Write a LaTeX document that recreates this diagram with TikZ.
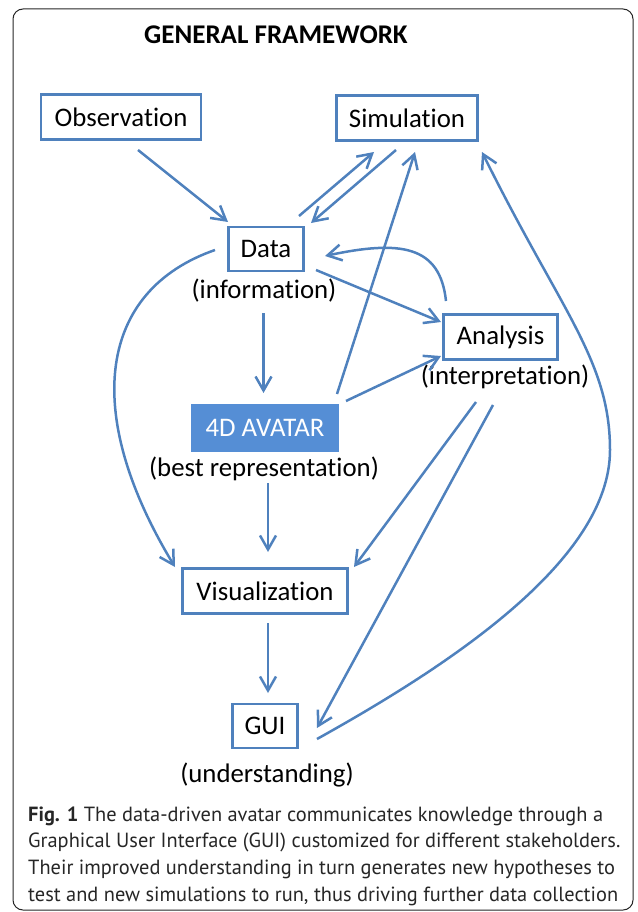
\documentclass[tikz,border=0pt]{standalone}
\usepackage{fontspec}
\setmainfont{Carlito}[Ligatures=NoCommon]
\newfontfamily\capfont{PT Sans}[FakeStretch=0.995]
\usetikzlibrary{arrows.meta}
\definecolor{lineblue}{RGB}{79,129,189}
\definecolor{avatarblue}{RGB}{85,142,213}
\newcommand\tiNoLig{t\kern0pt i}
\begin{document}
\begin{tikzpicture}[x=1pt,y=-1pt,
  box/.style={draw=lineblue, line width=2.6pt, inner sep=0pt, font=\fontsize{26.8}{30}\selectfont},
  lbl/.style={inner sep=0pt, anchor=base, font=\fontsize{26.8}{30}\selectfont},
  captext/.style={inner sep=0pt, anchor=base west, font=\capfont\fontsize{20.5}{24}\selectfont, text=black!85},
  conn/.style={draw=lineblue, line width=2.5pt, -{Straight Barb[length=14pt,width=16pt]}}]
\useasboundingbox (0,0) rectangle (637,912);
\draw[black!85, line width=1pt, rounded corners=10pt] (13,9) rectangle (633,910);

\node[inner sep=0pt, anchor=base west, font=\bfseries\fontsize{27}{30}\selectfont] (title) at (144,44) {GENERAL FRAMEWORK};

\node[box, minimum width=160pt, minimum height=45pt] (obs) at (121,117) {Observa\tiNoLig on};
\node[box, minimum width=141pt, minimum height=45pt] (sim) at (407,118) {Simula\tiNoLig on};
\node[box, minimum width=75pt, minimum height=44pt] (data) at (266,249) {Data};
\node[lbl] (info) at (264,298) {(informa\tiNoLig on)};
\node[box, minimum width=114pt, minimum height=45pt] (ana) at (500.5,337) {Analysis};
\node[lbl] (interp) at (505,384) {(interpreta\tiNoLig on)};
\node[box, fill=avatarblue, draw=avatarblue, text=white, minimum width=145pt, minimum height=46pt] (av) at (265,428) {4D AVATAR};
\node[lbl] (best) at (264,476) {(best representa\tiNoLig on)};
\node[box, minimum width=165pt, minimum height=45pt] (vis) at (265,591) {Visualiza\tiNoLig on};
\node[box, minimum width=65pt, minimum height=44pt] (gui) at (265,726) {GUI};
\node[lbl] (und) at (267,782) {(understanding)};

\coordinate (o1) at (138,150); \coordinate (d1) at (228,222);
\coordinate (d2) at (299,216); \coordinate (s1) at (374,152);
\coordinate (s2) at (396,150); \coordinate (d3) at (311,223);
\coordinate (a1) at (337,394); \coordinate (s3) at (415,152);
\coordinate (g1) at (317,739); \coordinate (s4) at (482,152);
\coordinate (n1) at (493,405); \coordinate (g2) at (317,728);
\coordinate (n2) at (476,402); \coordinate (v1) at (354,567);
\coordinate (a2) at (346,401); \coordinate (n3) at (441,356);
\coordinate (d4) at (316,270); \coordinate (n4) at (441,322);
\coordinate (n5) at (446,301); \coordinate (d5) at (325,256);
\coordinate (d6) at (215,250); \coordinate (v2) at (175,567);
\coordinate (d7) at (263.5,313); \coordinate (a3) at (263.5,393);
\coordinate (a4) at (268,483); \coordinate (v3) at (268,552);
\coordinate (v4) at (268,623); \coordinate (g3) at (268,693);

\draw[conn] (o1) -- (d1);
\draw[conn] (d2) -- (s1);
\draw[conn] (s2) -- (d3);
\draw[conn] (a1) -- (s3);
\draw[conn] (g1) .. controls (450,665) and (610,560) .. (610,450) .. controls (610,360) and (560,310) .. (s4);
\draw[conn] (n1) -- (g2);
\draw[conn] (n2) -- (v1);
\draw[conn] (a2) -- (n3);
\draw[conn] (d4) -- (n4);
\draw[conn] (n5) .. controls (440,245) and (400,240) .. (d5);
\draw[conn] (d6) .. controls (100,290) and (80,410) .. (v2);
\draw[conn] (d7) -- (a3);
\draw[conn] (a4) -- (v3);
\draw[conn] (v4) -- (g3);

\node[captext] (c1) at (28,821) {\textbf{Fig. 1} The data-driven avatar communicates knowledge through a};
\node[captext] (c2) at (28,847.5) {Graphical User Interface (GUI) customized for different stakeholders.};
\node[captext] (c3) at (28,874.2) {Their improved understanding in turn generates new hypotheses to};
\node[captext] (c4) at (28,901) {test and new simulations to run, thus driving further data collection};
\end{tikzpicture}
\end{document}
